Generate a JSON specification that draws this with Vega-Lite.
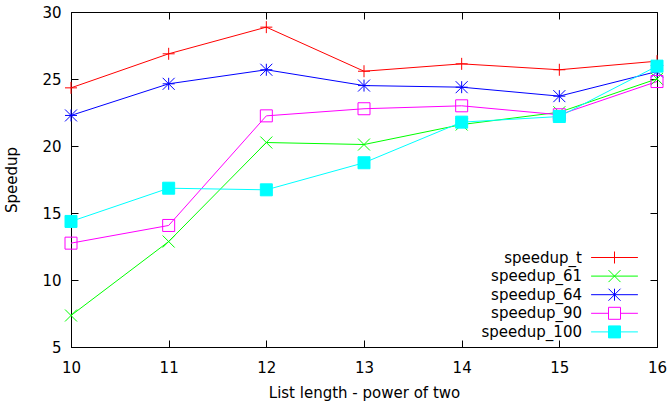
{
  "$schema": "https://vega.github.io/schema/vega-lite/v6.json",
  "autosize": {"type": "none"},
  "padding": {"left": 71, "top": 12, "right": 11, "bottom": 58},
  "width": 586,
  "height": 335,
  "background": "white",
  "config": {
    "view": {"stroke": "black", "strokeWidth": 1},
    "font": "DejaVu Sans",
    "axis": {"grid": false, "domainColor": "black", "tickColor": "black", "labelColor": "black", "titleColor": "black", "labelFont": "DejaVu Sans", "titleFont": "DejaVu Sans", "labelFontSize": 15, "titleFontSize": 15, "titleFontWeight": "normal", "tickSize": -7, "tickWidth": 1, "domainWidth": 1, "labelFlush": false}
  },
  "data": {"values": [
    {"x": 10, "s": "speedup_t", "v": 24.34}, {"x": 11, "s": "speedup_t", "v": 26.88}, {"x": 12, "s": "speedup_t", "v": 28.87}, {"x": 13, "s": "speedup_t", "v": 25.58}, {"x": 14, "s": "speedup_t", "v": 26.13}, {"x": 15, "s": "speedup_t", "v": 25.69}, {"x": 16, "s": "speedup_t", "v": 26.33},
    {"x": 10, "s": "speedup_61", "v": 7.35}, {"x": 11, "s": "speedup_61", "v": 12.87}, {"x": 12, "s": "speedup_61", "v": 20.26}, {"x": 13, "s": "speedup_61", "v": 20.11}, {"x": 14, "s": "speedup_61", "v": 21.6}, {"x": 15, "s": "speedup_61", "v": 22.52}, {"x": 16, "s": "speedup_61", "v": 25.01},
    {"x": 10, "s": "speedup_64", "v": 22.28}, {"x": 11, "s": "speedup_64", "v": 24.64}, {"x": 12, "s": "speedup_64", "v": 25.69}, {"x": 13, "s": "speedup_64", "v": 24.51}, {"x": 14, "s": "speedup_64", "v": 24.39}, {"x": 15, "s": "speedup_64", "v": 23.72}, {"x": 16, "s": "speedup_64", "v": 25.56},
    {"x": 10, "s": "speedup_90", "v": 12.75}, {"x": 11, "s": "speedup_90", "v": 14.07}, {"x": 12, "s": "speedup_90", "v": 22.25}, {"x": 13, "s": "speedup_90", "v": 22.78}, {"x": 14, "s": "speedup_90", "v": 23.0}, {"x": 15, "s": "speedup_90", "v": 22.33}, {"x": 16, "s": "speedup_90", "v": 24.81},
    {"x": 10, "s": "speedup_100", "v": 14.37}, {"x": 11, "s": "speedup_100", "v": 16.85}, {"x": 12, "s": "speedup_100", "v": 16.73}, {"x": 13, "s": "speedup_100", "v": 18.75}, {"x": 14, "s": "speedup_100", "v": 21.78}, {"x": 15, "s": "speedup_100", "v": 22.2}, {"x": 16, "s": "speedup_100", "v": 25.96}
  ]},
  "layer": [
    {
      "encoding": {
        "x": {"field": "x", "type": "quantitative", "scale": {"domain": [10, 16], "nice": false}, "axis": {"title": "List length - power of two", "values": [10, 11, 12, 13, 14, 15, 16], "format": "d", "labelPadding": 20, "titlePadding": 10}},
        "y": {"field": "v", "type": "quantitative", "scale": {"domain": [5, 30], "nice": false}, "axis": {"title": "Speedup", "values": [5, 10, 15, 20, 25, 30], "labelPadding": 17, "titlePadding": 22}}
      },
      "layer": [
        {
          "mark": {"type": "line", "strokeWidth": 1},
          "encoding": {
            "stroke": {"field": "s", "type": "nominal", "scale": {"domain": ["speedup_t", "speedup_61", "speedup_64", "speedup_90", "speedup_100"], "range": ["#ff0000", "#00ff00", "#0000ff", "#ff00ff", "#00ffff"]},
              "legend": {"title": null, "orient": "none", "legendX": 536, "legendY": 238, "padding": 0, "labelFontSize": 15, "labelFont": "DejaVu Sans", "labelColor": "black", "labelAlign": "right", "labelOffset": -40, "symbolSize": 144, "symbolStrokeWidth": 1, "rowPadding": 1.6, "labelLimit": 300}}
          }
        },
        {
          "transform": [{"filter": "false"}],
          "mark": {"type": "point", "strokeWidth": 1, "size": 144, "opacity": 1},
          "encoding": {
            "stroke": {"field": "s", "type": "nominal"},
            "shape": {"field": "s", "type": "nominal", "scale": {"domain": ["speedup_t", "speedup_61", "speedup_64", "speedup_90", "speedup_100"], "range": ["M-3.9,0H3.9M0,-1V1", "M-3.9,0H3.9M-1,-1L1,1M-1,1L1,-1", "M-3.9,0H3.9M0,-1V1M-1,-1L1,1M-1,1L1,-1", "M-3.9,0H-1M1,0H3.9M-1,-1H1V1H-1Z", "M-3.9,0H-1M1,0H3.9M-1,-1H1V1H-1Z"]}},
            "fill": {"field": "s", "type": "nominal", "scale": {"domain": ["speedup_t", "speedup_61", "speedup_64", "speedup_90", "speedup_100"], "range": ["transparent", "transparent", "transparent", "transparent", "#00ffff"]}}
          }
        },
        {
          "transform": [{"filter": "datum.s === 'speedup_t'"}],
          "mark": {"type": "point", "shape": "M0,-1V1M-1,0H1", "stroke": "#ff0000", "strokeWidth": 1, "size": 144, "filled": false, "opacity": 1}
        },
        {
          "transform": [{"filter": "datum.s === 'speedup_61'"}],
          "mark": {"type": "point", "shape": "M-1,-1L1,1M-1,1L1,-1", "stroke": "#00ff00", "strokeWidth": 1, "size": 144, "filled": false, "opacity": 1}
        },
        {
          "transform": [{"filter": "datum.s === 'speedup_64'"}],
          "mark": {"type": "point", "shape": "M-1,0H1M0,-1V1M-1,-1L1,1M-1,1L1,-1", "stroke": "#0000ff", "strokeWidth": 1, "size": 144, "filled": false, "opacity": 1}
        },
        {
          "transform": [{"filter": "datum.s === 'speedup_90'"}],
          "mark": {"type": "point", "shape": "square", "stroke": "#ff00ff", "strokeWidth": 1, "size": 144, "filled": false, "opacity": 1}
        },
        {
          "transform": [{"filter": "datum.s === 'speedup_100'"}],
          "mark": {"type": "point", "shape": "square", "fill": "#00ffff", "stroke": "#00ffff", "strokeWidth": 1, "size": 144, "filled": true, "opacity": 1}
        }
      ]
    },
    {
      "mark": {"type": "point", "opacity": 0},
      "encoding": {
        "x": {"field": "x", "type": "quantitative", "scale": {"domain": [10, 16], "nice": false}, "axis": {"orient": "top", "labels": false, "title": null, "values": [10, 11, 12, 13, 14, 15, 16], "domain": false}},
        "y": {"field": "v", "type": "quantitative", "scale": {"domain": [5, 30], "nice": false}, "axis": {"orient": "right", "labels": false, "title": null, "values": [5, 10, 15, 20, 25, 30], "domain": false}}
      }
    }
  ],
  "resolve": {"axis": {"x": "independent", "y": "independent"}}
}
